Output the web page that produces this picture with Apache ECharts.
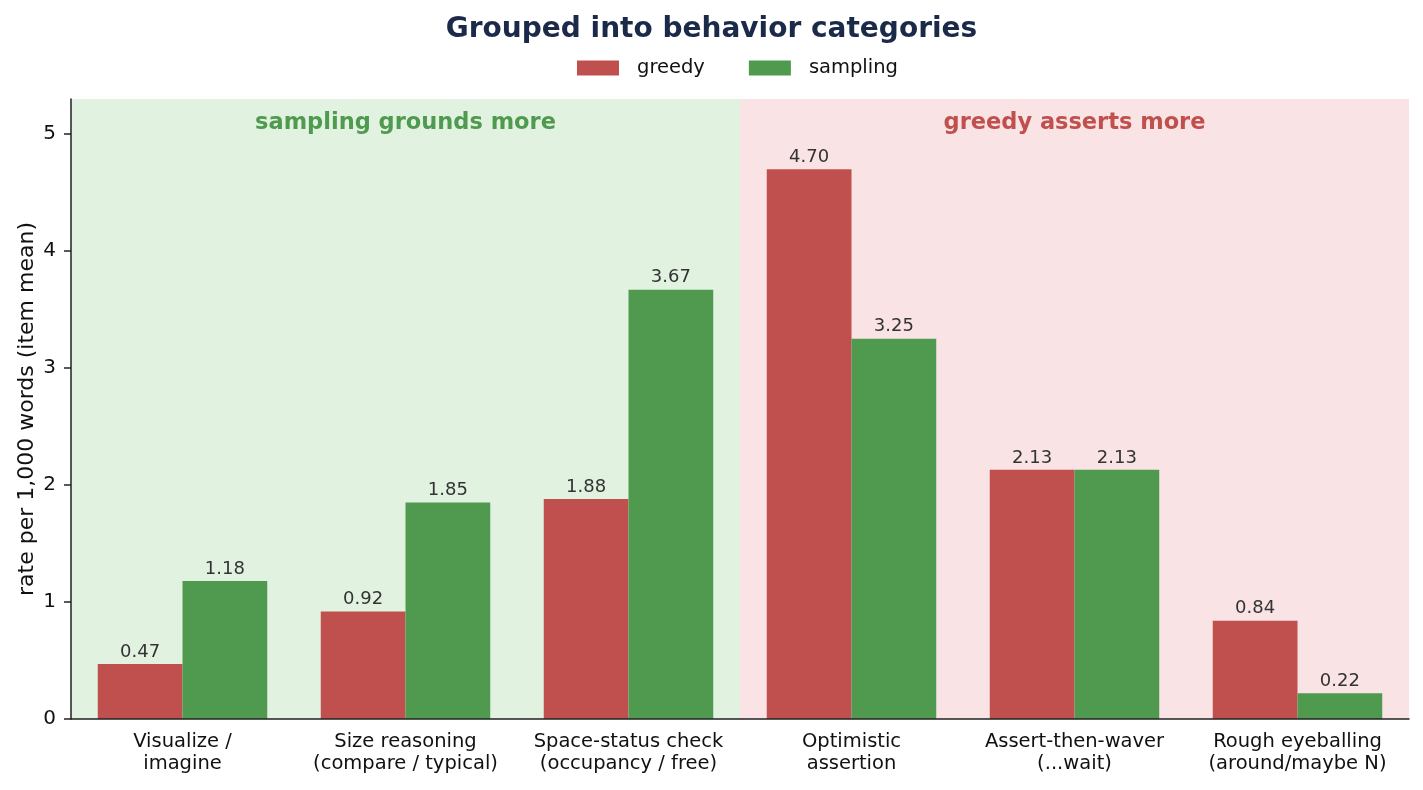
<!DOCTYPE html>
<html>
<head>
<meta charset="utf-8">
<script src="https://cdn.jsdelivr.net/npm/echarts@6/dist/echarts.min.js"></script>
<style>
  html, body { margin: 0; padding: 0; background: #fff; }
  #chart { width: 1423px; height: 790px; }
</style>
</head>
<body>
<div id="chart"></div>
<script>
// 数据
const categories = [
  'Visualize /\nimagine',
  'Size reasoning\n(compare / typical)',
  'Space-status check\n(occupancy / free)',
  'Optimistic\nassertion',
  'Assert-then-waver\n(...wait)',
  'Rough eyeballing\n(around/maybe N)'
];
const greedy = [0.47, 0.92, 1.88, 4.70, 2.13, 0.84];
const sampling = [1.18, 1.85, 3.67, 3.25, 2.13, 0.22];
const yTicks = [0, 1, 2, 3, 4, 5];
// 背景分区：[起, 止, 文字]
const bands = [
  [-0.5, 2.5, 'sampling grounds more'],
  [2.5, 5.5, 'greedy asserts more']
];

const RED = '#c0504d';
const GREEN = '#4f9a4f';
const FONT = 'DejaVu Sans';

const chart = echarts.init(document.getElementById('chart'));

const barLabel = {
  show: true,
  position: 'top',
  distance: 3,
  color: '#333',
  fontFamily: FONT,
  fontSize: 18,
  formatter: p => p.value.toFixed(2)
};

chart.setOption({
  animation: false,
  textStyle: { fontFamily: FONT },
  title: {
    text: 'Grouped into behavior categories',
    left: 'center',
    top: 11,
    textStyle: { fontFamily: FONT, fontSize: 28, fontWeight: 'bold', color: '#1c2a4a' }
  },
  legend: {
    data: ['greedy', 'sampling'],
    top: 58,
    left: 577,
    padding: 0,
    itemWidth: 42,
    itemHeight: 15,
    itemGap: 44,
    icon: 'rect',
    textStyle: { fontFamily: FONT, fontSize: 19.5, color: '#111', padding: [0, 0, 0, 13] }
  },
  grid: { left: 71, right: 14, top: 99, bottom: 71, containLabel: false, outerBoundsMode: 'none' },
  xAxis: [
    {
      type: 'category',
      data: categories,
      axisLine: { lineStyle: { color: '#222', width: 1.5 } },
      axisTick: { alignWithLabel: true, length: 7, lineStyle: { color: '#222', width: 1.5 } },
      axisLabel: { fontFamily: FONT, fontSize: 19.5, color: '#111', lineHeight: 22, margin: 12, interval: 0 },
      z: 10
    },
    {
      type: 'value',
      min: -0.5,
      max: 5.5,
      show: false
    }
  ],
  yAxis: {
    type: 'value',
    min: 0,
    max: 5.3,
    interval: 1,
    name: 'rate per 1,000 words (item mean)',
    nameLocation: 'middle',
    nameGap: 33,
    nameMoveOverlap: false,
    nameTextStyle: { fontFamily: FONT, fontSize: 22, color: '#111' },
    axisLine: { show: true, onZero: false, lineStyle: { color: '#222', width: 1.5 } },
    axisTick: { show: true, length: 7, lineStyle: { color: '#222', width: 1.5 }, customValues: yTicks },
    axisLabel: { fontFamily: FONT, fontSize: 20, color: '#111', margin: 15, customValues: yTicks },
    splitLine: { show: false },
    z: 10
  },
  series: [
    {
      name: 'bands',
      type: 'line',
      xAxisIndex: 1,
      data: [],
      silent: true,
      markArea: {
        silent: true,
        data: bands.map((b, i) => [
          {
            xAxis: b[0],
            yAxis: 5.3,
            itemStyle: { color: i === 0 ? '#e2f2e1' : '#f9e3e5' },
            label: {
              show: true,
              position: 'insideTop',
              distance: 13,
              formatter: b[2],
              fontFamily: FONT,
              fontSize: 22.5,
              fontWeight: 'bold',
              color: i === 0 ? GREEN : RED
            }
          },
          { xAxis: b[1], yAxis: 0 }
        ])
      },
      z: 0
    },
    {
      name: 'greedy',
      type: 'bar',
      data: greedy,
      itemStyle: { color: RED },
      barGap: '0%',
      barCategoryGap: '24%',
      label: barLabel,
      z: 3
    },
    {
      name: 'sampling',
      type: 'bar',
      data: sampling,
      itemStyle: { color: GREEN },
      barGap: '0%',
      barCategoryGap: '24%',
      label: barLabel,
      z: 3
    }
  ]
});
</script>
</body>
</html>
